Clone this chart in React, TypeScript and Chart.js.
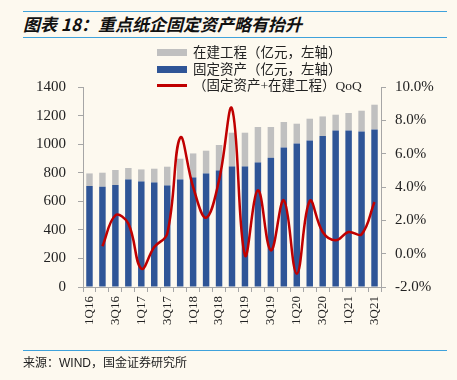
import React, { useEffect, useRef } from "react";
import { Chart, registerables } from "chart.js";
Chart.register(...registerables);

const quarters = [
  "1Q16", "2Q16", "3Q16", "4Q16",
  "1Q17", "2Q17", "3Q17", "4Q17",
  "1Q18", "2Q18", "3Q18", "4Q18",
  "1Q19", "2Q19", "3Q19", "4Q19",
  "1Q20", "2Q20", "3Q20", "4Q20",
  "1Q21", "2Q21", "3Q21",
];
const fixedAssets = [707, 702, 714, 753, 739, 732, 711, 753, 767, 795, 816, 844, 844, 872, 905, 977, 1005, 1026, 1057, 1096, 1096, 1089, 1103];
const construction = [88, 98, 105, 80, 84, 96, 131, 145, 168, 159, 178, 236, 236, 248, 215, 178, 138, 152, 137, 110, 122, 145, 173];
const qoq = [null, 0.44, 2.3, 1.8, -0.9, 0.4, 1.2, 6.96, 4.0, 2.16, 4.4, 8.7, -0.1, 3.8, 0.2, 3.2, -1.2, 3.16, 1.3, 0.8, 1.3, 1.16, 3.1];

const labelConstruction = "在建工程（亿元，左轴）";
const labelFixed = "固定资产（亿元，左轴）";
const labelQoQ = "（固定资产+在建工程）QoQ";
const titleText = "图表 18：重点纸企固定资产略有抬升";
const sourceText = "来源：WIND，国金证券研究所";

const BLUE = "#2F5597";
const GRAY = "#C0C0C0";
const RED = "#C00000";
const BG = "#FDF9EF";
const LINE_BLUE = "#3FA2DB";
const AXIS = "#A6A6A6";

export default function App() {
  const ref = useRef<HTMLCanvasElement | null>(null);

  useEffect(() => {
    if (!ref.current) return;
    const chart = new Chart(ref.current, {
      type: "bar",
      data: {
        labels: quarters,
        datasets: [
          {
            type: "line",
            label: labelQoQ,
            data: qoq as any,
            yAxisID: "y1",
            borderColor: RED,
            borderWidth: 2.5,
            pointRadius: 0,
            tension: 0.4,
            fill: false,
            order: 0,
          } as any,
          {
            label: labelFixed,
            data: fixedAssets,
            backgroundColor: BLUE,
            yAxisID: "y",
            barPercentage: 0.5,
            categoryPercentage: 1,
            order: 1,
          },
          {
            label: labelConstruction,
            data: construction,
            backgroundColor: GRAY,
            yAxisID: "y",
            barPercentage: 0.5,
            categoryPercentage: 1,
            order: 2,
          },
        ],
      },
      options: {
        responsive: false,
        animation: false,
        devicePixelRatio: 1,
        layout: { padding: { top: 87, bottom: 40, left: 0, right: 0 } },
        plugins: { legend: { display: false }, tooltip: { enabled: false } },
        scales: {
          x: {
            stacked: true,
            grid: {
              display: true,
              drawOnChartArea: false,
              drawTicks: true,
              tickLength: 5,
              color: AXIS,
              offset: true,
            },
            border: { color: AXIS, width: 1 },
            ticks: {
              autoSkip: false,
              maxRotation: 90,
              minRotation: 90,
              padding: 4,
              color: "#222",
              font: { family: "Liberation Serif", size: 13 },
              callback: (_v: any, i: number) => (i % 2 === 0 ? quarters[i] : ""),
            },
            afterFit: (s: any) => {
              s.height = 53;
            },
          },
          y: {
            stacked: true,
            position: "left",
            min: 0,
            max: 1400,
            grid: {
              display: true,
              drawOnChartArea: false,
              drawTicks: true,
              tickLength: 5,
              color: AXIS,
            },
            border: { color: AXIS, width: 1 },
            ticks: {
              stepSize: 200,
              padding: 12,
              color: "#222",
              font: { family: "Liberation Serif", size: 15 },
              callback: (v: any) => String(v),
            },
            afterFit: (s: any) => {
              s.width = 83;
            },
          },
          y1: {
            position: "right",
            min: -2,
            max: 10,
            grid: {
              display: true,
              drawOnChartArea: false,
              drawTicks: true,
              tickLength: 5,
              color: AXIS,
            },
            border: { color: AXIS, width: 1 },
            ticks: {
              stepSize: 2,
              padding: 9,
              color: "#222",
              font: { family: "Liberation Serif", size: 15 },
              callback: (v: any) => Number(v).toFixed(1) + "%",
            },
            afterFit: (s: any) => {
              s.width = 76;
            },
          },
        },
      },
    });
    return () => chart.destroy();
  }, []);

  const legendRow = (top: number, swatch: React.ReactNode, text: string) => (
    <div style={{ position: "absolute", left: 157, top, height: 17, display: "flex", alignItems: "center" }}>
      <div style={{ width: 30, height: 17, position: "relative" }}>{swatch}</div>
      <span
        style={{
          marginLeft: 6,
          fontFamily: "'Liberation Serif', 'Noto Sans CJK SC', serif",
          fontSize: 13.5,
          color: "#222",
          whiteSpace: "nowrap",
          lineHeight: "17px",
        }}
      >
        {text}
      </span>
    </div>
  );

  return (
    <div style={{ position: "fixed", left: 0, top: 0, width: 457, height: 380, background: BG, overflow: "hidden" }}>
      <div style={{ position: "absolute", left: 23, top: 11, width: 424, height: 0, borderTop: `1.5px solid ${LINE_BLUE}` }} />
      <div
        style={{
          position: "absolute",
          left: 23,
          top: 13,
          fontFamily: "'Noto Sans CJK SC', sans-serif",
          fontWeight: 700,
          fontStyle: "italic",
          fontSize: 17,
          lineHeight: "22px",
          color: "#111",
          whiteSpace: "nowrap",
        }}
      >
        {titleText}
      </div>
      <div style={{ position: "absolute", left: 23, top: 37, width: 424, height: 0, borderTop: `1.5px solid ${LINE_BLUE}` }} />
      <canvas ref={ref} width={457} height={380} style={{ position: "absolute", left: 0, top: 0, width: 457, height: 380 }} />
      {legendRow(44, <div style={{ position: "absolute", left: 0, top: 5, width: 30, height: 7, background: GRAY }} />, labelConstruction)}
      {legendRow(61, <div style={{ position: "absolute", left: 0, top: 5, width: 30, height: 7, background: BLUE }} />, labelFixed)}
      {legendRow(77, <div style={{ position: "absolute", left: 0, top: 7, width: 30, height: 2.5, background: RED }} />, labelQoQ)}
      <div style={{ position: "absolute", left: 23, top: 350, width: 424, height: 0, borderTop: `1.5px solid ${LINE_BLUE}` }} />
      <div
        style={{
          position: "absolute",
          left: 23,
          top: 355,
          fontFamily: "'Liberation Sans', 'Noto Sans CJK SC', sans-serif",
          fontSize: 12,
          lineHeight: "16px",
          color: "#222",
          whiteSpace: "nowrap",
        }}
      >
        {sourceText}
      </div>
    </div>
  );
}
